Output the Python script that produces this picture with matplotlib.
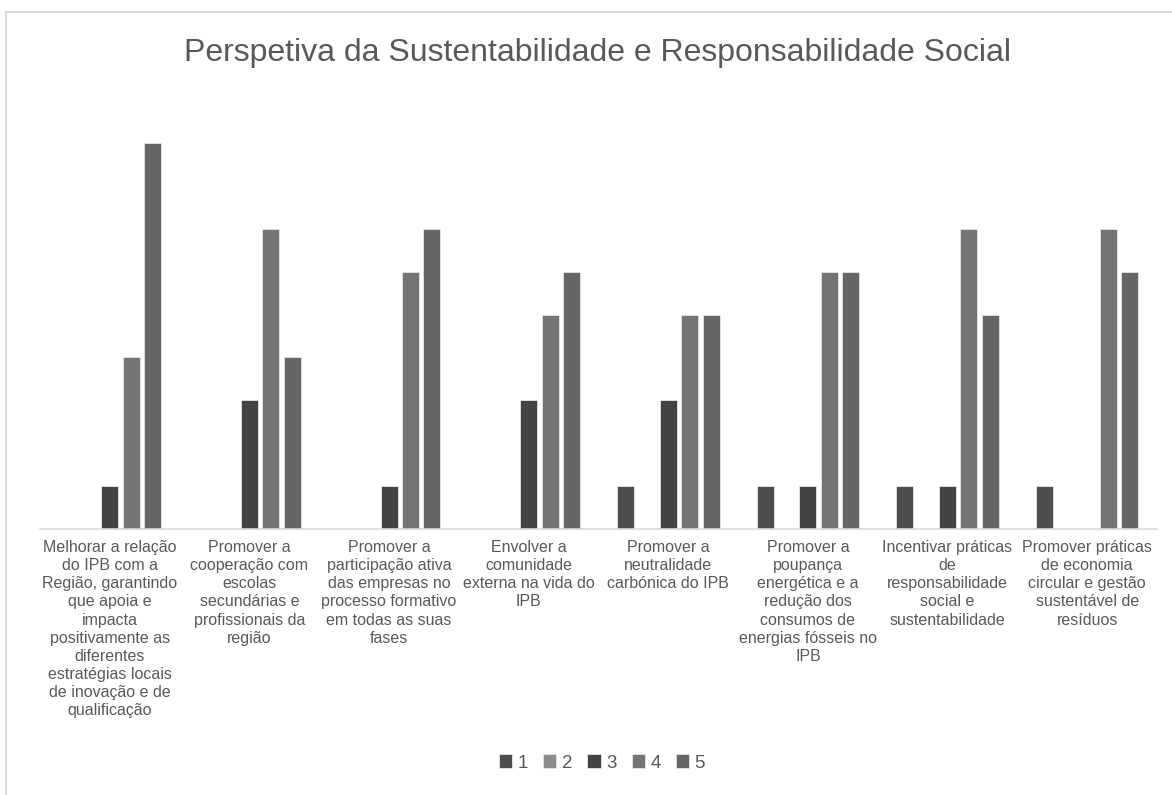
import numpy as np
import matplotlib.pyplot as plt

plt.rcParams['font.family'] = ['Liberation Sans', 'DejaVu Sans']

categories = [
    "Melhorar a relação\ndo IPB com a\nRegião, garantindo\nque apoia e\nimpacta\npositivamente as\ndiferentes\nestratégias locais\nde inovação e de\nqualificação",
    "Promover a\ncooperação com\nescolas\nsecundárias e\nprofissionais da\nregião",
    "Promover a\nparticipação ativa\ndas empresas no\nprocesso formativo\nem todas as suas\nfases",
    "Envolver a\ncomunidade\nexterna na vida do\nIPB",
    "Promover a\nneutralidade\ncarbónica do IPB",
    "Promover a\npoupança\nenergética e a\nredução dos\nconsumos de\nenergias fósseis no\nIPB",
    "Incentivar práticas\nde\nresponsabilidade\nsocial e\nsustentabilidade",
    "Promover práticas\nde economia\ncircular e gestão\nsustentável de\nresíduos",
]
series_names = ['1', '2', '3', '4', '5']
s1 = [0, 0, 0, 0, 1, 1, 1, 1]
s2 = [0, 0, 0, 0, 0, 0, 0, 0]
s3 = [1, 3, 1, 3, 3, 1, 1, 0]
s4 = [4, 7, 6, 5, 5, 6, 7, 7]
s5 = [9, 4, 7, 6, 5, 6, 5, 6]
colors = ['#4d4d4d', '#8c8c8c', '#434343', '#747474', '#666666']

fig = plt.figure(figsize=(11.72, 7.95), dpi=100)
ax = fig.add_axes([40 / 1172, 1 - 529 / 795, 1117 / 1172, 429 / 795])

x = np.arange(len(categories))
step = 0.153
width = 0.122
for i, (vals, name) in enumerate(zip([s1, s2, s3, s4, s5], series_names)):
    ax.bar(x + (i - 2) * step, vals, width=width, color=colors[i],
           edgecolor='#e6e6e6', linewidth=0.6, label=name)

ax.set_xlim(-0.5, len(categories) - 0.5)
ax.set_ylim(0, 10)
ax.set_yticks([])
ax.set_xticks(x)
ax.set_xticklabels(categories, fontsize=11.5, color='#595959', linespacing=1.26)
ax.tick_params(axis='x', length=0, pad=8)
for s in ['top', 'right', 'left']:
    ax.spines[s].set_visible(False)
ax.spines['bottom'].set_color('#d9d9d9')
ax.spines['bottom'].set_linewidth(1.2)

fig.text(597 / 1172, 1 - 53 / 795, 'Perspetiva da Sustentabilidade e Responsabilidade Social',
         ha='center', va='center', fontsize=23, color='#595959')

fig.legend(loc='center', bbox_to_anchor=(602 / 1172, 1 - 763 / 795), ncol=5,
           frameon=False, handlelength=0.7, handleheight=0.7, handletextpad=0.3,
           columnspacing=0.8, fontsize=13.5, labelcolor='#595959')

# chart area border (top and left edges visible)
fig.add_artist(plt.Line2D([6 / 1172, 1], [1 - 12 / 795, 1 - 12 / 795], color='#d9d9d9', lw=1.5))
fig.add_artist(plt.Line2D([6 / 1172, 6 / 1172], [0, 1 - 12 / 795], color='#d9d9d9', lw=1.5))

fig.savefig('out.png', dpi=100, facecolor='white')
